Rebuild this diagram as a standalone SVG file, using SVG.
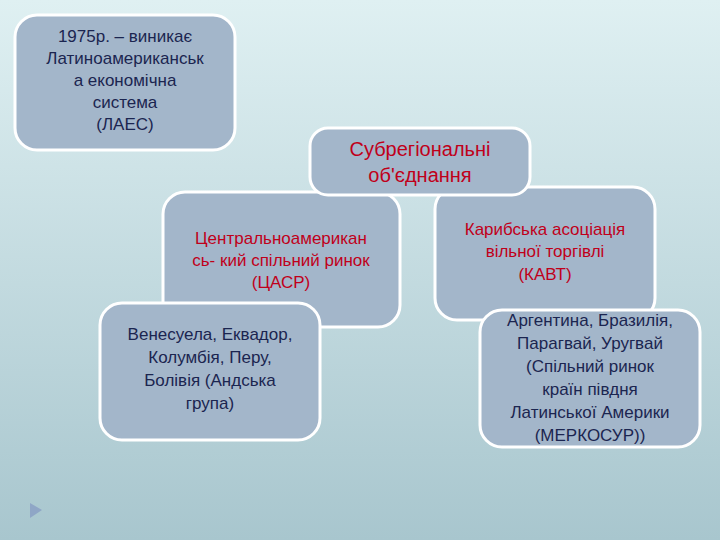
<svg xmlns="http://www.w3.org/2000/svg" width="720" height="540" viewBox="0 0 720 540">
<defs>
<linearGradient id="bg" x1="0" y1="0" x2="0" y2="1"><stop offset="0" stop-color="#dff0f2"/><stop offset="1" stop-color="#a8c6ce"/></linearGradient>
<style>
.b{fill:#a3b6ca;stroke:#fff;stroke-width:3}
text{font-family:"Liberation Sans",Arial,sans-serif;font-size:17px;text-anchor:middle}
.d{fill:#1b2550}
.r{fill:#c0001a}
</style>
</defs>
<rect width="720" height="540" fill="url(#bg)"/>
<polygon points="30,503 30,518 42,510" fill="#8fa6c6"/>
<g id="connectors"/>
<g id="n1"><rect class="b" x="15" y="15" width="220" height="135" rx="22"/>
<text class="d"><tspan x="125" y="42">1975р. – виникає</tspan><tspan x="125" y="64">Латиноамериканськ</tspan><tspan x="125" y="86">а економічна</tspan><tspan x="125" y="108">система</tspan><tspan x="125" y="130">(ЛАЕС)</tspan></text></g>
<g id="n3"><rect class="b" x="163" y="192" width="237" height="135" rx="22"/>
<text class="r"><tspan x="281" y="244">Центральноамерикан</tspan><tspan x="281" y="266">сь- кий спільний ринок</tspan><tspan x="281" y="288">(ЦАСР)</tspan></text></g>
<g id="n4"><rect class="b" x="435" y="187" width="220" height="133" rx="22"/>
<text class="r"><tspan x="545" y="235">Карибська асоціація</tspan><tspan x="545" y="257">вільної торгівлі</tspan><tspan x="545" y="280">(КАВТ)</tspan></text></g>
<g id="n2"><rect class="b" x="310" y="128" width="220" height="67" rx="18"/>
<text class="r" style="font-size:20px"><tspan x="420" y="156">Субрегіональні</tspan><tspan x="420" y="182">об'єднання</tspan></text></g>
<g id="n5"><rect class="b" x="100" y="303" width="220" height="137" rx="22"/>
<text class="d"><tspan x="210" y="340">Венесуела, Еквадор,</tspan><tspan x="210" y="363">Колумбія, Перу,</tspan><tspan x="210" y="386">Болівія (Андська</tspan><tspan x="210" y="409">група)</tspan></text></g>
<g id="n6"><rect class="b" x="480" y="310" width="220" height="137" rx="22"/>
<text class="d"><tspan x="590" y="326">Аргентина, Бразилія,</tspan><tspan x="590" y="349">Парагвай, Уругвай</tspan><tspan x="590" y="372">(Спільний ринок</tspan><tspan x="590" y="395">країн півдня</tspan><tspan x="590" y="418">Латинської Америки</tspan><tspan x="590" y="441">(МЕРКОСУР))</tspan></text></g>
</svg>
